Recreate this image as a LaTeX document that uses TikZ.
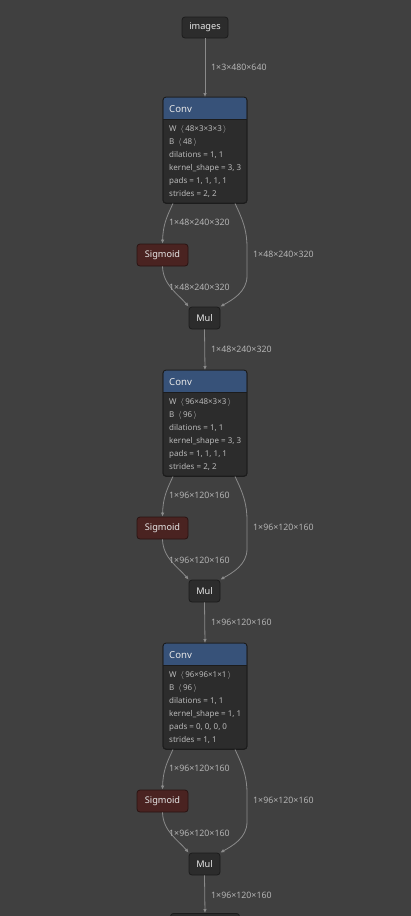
\documentclass[tikz,border=0pt]{standalone}
\usepackage{fontspec}
\setmainfont{Noto Sans}
\usetikzlibrary{arrows.meta}
\definecolor{bg}{HTML}{404040}
\definecolor{nodefill}{HTML}{2C2C2C}
\definecolor{nodeline}{HTML}{1C1C1C}
\definecolor{hdr}{HTML}{375279}
\definecolor{sigfill}{HTML}{4A2321}
\definecolor{sigline}{HTML}{2A1412}
\definecolor{edgecol}{HTML}{8A8A8A}
\definecolor{lblcol}{HTML}{B4B4B4}
\definecolor{attrcol}{HTML}{BABABA}
\definecolor{titlecol}{HTML}{E8E8E8}
\tikzset{
  opbox/.style={draw=nodeline, fill=nodefill, rounded corners=3pt, line width=0.8pt,
    inner sep=0pt, text=titlecol, font=\fontsize{9.2}{10}\selectfont},
  sigbox/.style={opbox, draw=sigline, fill=sigfill},
  convbody/.style={draw=nodeline, fill=nodefill, rounded corners=3pt, line width=0.8pt,
    inner sep=0pt, minimum width=84pt, minimum height=106pt, anchor=north},
  title/.style={anchor=west, inner sep=0pt, text=titlecol, font=\fontsize{9.6}{10}\selectfont},
  attr/.style={anchor=west, inner sep=0pt, text=attrcol, font=\fontsize{8}{9}\selectfont},
  edgelbl/.style={anchor=west, inner sep=0pt, text=lblcol, font=\fontsize{8.8}{9}\selectfont},
  flow/.style={draw=edgecol, line width=0.8pt, -{Latex[length=4pt,width=3.6pt]}},
}
\begin{document}
\begin{tikzpicture}[x=1pt,y=-1pt]
  \fill[bg] (0,0) rectangle (411,916);
  \useasboundingbox (0,0) rectangle (411,916);

  % graph input
  \node[opbox, minimum width=46pt, minimum height=21pt] (images) at (205,27.5) {images};

  % three Conv -> Sigmoid/Mul blocks, one every 273pt
  \foreach \i/\w/\b/\ks/\pd/\st/\ch/\sz [count=\k from 0] in {
      1/48×3×3×3/48/{3, 3}/{1, 1, 1, 1}/{2, 2}/48/240×320,
      2/96×48×3×3/96/{3, 3}/{1, 1, 1, 1}/{2, 2}/96/120×160,
      3/96×96×1×1/96/{1, 1}/{0, 0, 0, 0}/{1, 1}/96/120×160} {
    \begin{scope}[yshift=-\k*273pt]
      % Conv node: body, blue header, title and attributes
      \node[convbody] (conv\i) at (205,97) {};
      \fill[hdr] (163.4,119) {[rounded corners=3pt] -- (163.4,97.4) -- (246.6,97.4)} -- (246.6,119) -- cycle;
      \draw[nodeline, line width=0.6pt] (163.4,119) -- (246.6,119);
      \draw[nodeline, rounded corners=3pt, line width=0.8pt] (163,97) rectangle (247,203);
      \node[title] (convt\i) at (169,109) {Conv};
      \node[attr] (aw\i) at (169,129) {\textbf{W}\enspace$\langle$\,\w\,$\rangle$};
      \node[attr] (ab\i) at (169,142) {\textbf{B}\enspace$\langle$\,\b\,$\rangle$};
      \node[attr] (ad\i) at (169,155) {dilations = 1, 1};
      \node[attr] (ak\i) at (169,168) {kernel\_shape = \ks};
      \node[attr] (ap\i) at (169,181) {pads = \pd};
      \node[attr] (as\i) at (169,194) {strides = \st};

      % Sigmoid and Mul
      \node[sigbox, minimum width=51pt, minimum height=22pt] (sig\i) at (162.5,255) {Sigmoid};
      \node[opbox, minimum width=31pt, minimum height=22pt] (mul\i) at (204.5,318) {Mul};

      % connectors
      \coordinate (cl\i) at (173,203.5);
      \coordinate (cr\i) at (235,203.5);
      \draw[flow] (cl\i) .. controls (166,218) and (163,226) .. (sig\i.north);
      \draw[flow] (cr\i) .. controls (244,222) and (247,232) .. (247,248) -- (247,276)
                  .. controls (247,292) and (232,300) .. (mul\i.north east);
      \draw[flow] (sig\i.south) .. controls (163,285) and (178,294) .. (mul\i.north west);

      \node[edgelbl] (la\i) at (169,222) {1×\ch×\sz};
      \node[edgelbl] (lb\i) at (253,254) {1×\ch×\sz};
      \node[edgelbl] (lc\i) at (169,287) {1×\ch×\sz};
      \node[edgelbl] (ld\i) at (211,349) {1×\ch×\sz};
    \end{scope}
  }

  % next node, cut by the lower edge
  \node[opbox, minimum width=69pt, minimum height=22pt, anchor=north] (next) at (205,913) {};

  \draw[flow] (images.south) -- (conv1.north);
  \node[edgelbl] (l0) at (211,67) {1×3×480×640};
  \draw[flow] (mul1.south) -- (conv2.north);
  \draw[flow] (mul2.south) -- (conv3.north);
  \draw[flow] (mul3.south) -- (next.north);
\end{tikzpicture}
\end{document}
